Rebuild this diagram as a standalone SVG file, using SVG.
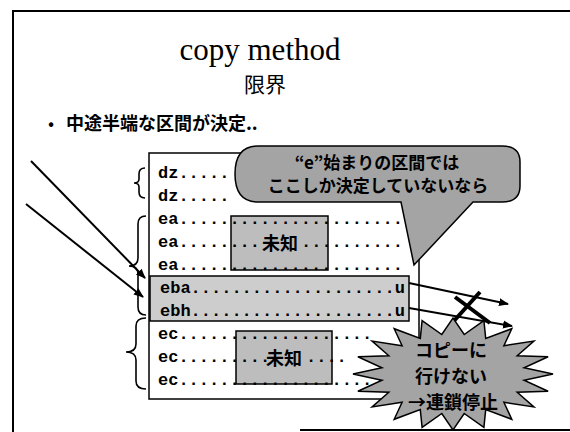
<svg xmlns="http://www.w3.org/2000/svg" width="570" height="432" viewBox="0 0 570 432">
<defs>
<style>
.frame{fill:none;stroke:#000;stroke-width:2}
.title{font-family:"Liberation Serif",serif;font-size:31px;fill:#000}
.jp{font-family:"Noto Sans CJK JP",sans-serif;fill:#000}
.row{font-family:"Liberation Mono",monospace;font-weight:bold;font-size:17px;fill:#000}
.brace{fill:none;stroke:#000;stroke-width:1.6}
.arrow{fill:none;stroke:#000;stroke-width:2}
.cross{fill:none;stroke:#000;stroke-width:4}
.gray{fill:#a4a4a4;stroke:#000;stroke-width:1.5}
.light{fill:#cdcdcd;stroke:#000;stroke-width:1.5}
.unk{fill:#bdbdbd;stroke:#000;stroke-width:1.5}
</style>
<marker id="ah" viewBox="0 0 10 10" refX="9" refY="5" markerWidth="5" markerHeight="5" orient="auto" markerUnits="strokeWidth">
<path d="M0,1 L10,5 L0,9 Z" fill="#000"/>
</marker>
</defs>
<rect width="570" height="432" fill="#fff"/>
<g id="frame">
<path class="frame" d="M13,432 L13,11 L570,11"/>
<path class="frame" d="M300,430 L570,430"/>
</g>
<g id="title">
<text class="title" x="260" y="60" text-anchor="middle">copy method</text>
<text class="jp" x="265" y="92" font-size="21" text-anchor="middle">限界</text>
</g>
<g id="bullet">
<text class="jp" x="48" y="130" font-size="18">•</text>
<text class="jp" x="66" y="130" font-size="18" font-weight="bold">中途半端な区間が決定..</text>
</g>
<g id="table">
<rect x="149" y="153" width="270" height="246" fill="#fff" stroke="#000" stroke-width="1.5"/>
<rect class="light" x="150" y="276" width="259" height="45"/>
<rect id="unknown1" class="unk" x="231" y="216" width="97" height="54"/>
<rect id="unknown2" class="unk" x="236" y="331" width="96" height="53"/>
<text class="row" x="158" y="178">dz.....</text>
<text class="row" x="158" y="201">dz.....</text>
<text class="row" x="158" y="224">ea......................</text>
<text class="row" x="158" y="247">ea........</text>
<text class="row" x="301" y="247">..........</text>
<text class="row" x="158" y="270">ea......................</text>
<text class="row" x="160" y="293">eba....................u</text>
<text class="row" x="160" y="316">ebh....................u</text>
<text class="row" x="158" y="339">ec...................</text>
<text class="row" x="158" y="362">ec.........</text>
<text class="row" x="306" y="362">....</text>
<text class="row" x="158" y="385">ec...................</text>
<text class="jp" x="280" y="250" font-size="18" font-weight="bold" text-anchor="middle">未知</text>
<text class="jp" x="284" y="365" font-size="18" font-weight="bold" text-anchor="middle">未知</text>
</g>
<g id="braces">
<path class="brace" d="M145,168 Q139,168 139,174 L139,179 Q139,183 134,183 Q139,183 139,187 L139,192 Q139,198 145,198"/>
<path class="brace" d="M146,216 Q138,216 138,224 L138,258 Q138,266 129,266 Q138,266 138,274 L138,307 Q138,315 146,315"/>
<path class="brace" d="M146,318 Q136,318 136,326 L136,344 Q136,352 126,352 Q136,352 136,360 L136,381 Q136,389 146,389"/>
</g>
<g id="connectors">
<line class="arrow" x1="31" y1="161" x2="145" y2="278" marker-end="url(#ah)"/>
<line class="arrow" x1="26" y1="204" x2="143" y2="297" marker-end="url(#ah)"/>
<line class="arrow" x1="409" y1="283" x2="508" y2="304" marker-end="url(#ah)"/>
<line class="arrow" x1="409" y1="308" x2="512" y2="326" marker-end="url(#ah)"/>
<line class="cross" x1="480" y1="292" x2="453" y2="322"/>
<line class="cross" x1="455" y1="297" x2="490" y2="323"/>
</g>
<g id="callout">
<path class="gray" d="M258,146 L502,146 Q520,146 520,162 L520,186 Q520,202 502,202 L473,202 L414,265 L401,202 L258,202 Q235,202 235,174 Q235,146 258,146 Z"/>
<text class="jp" x="377" y="169" font-size="17" font-weight="bold" text-anchor="middle">“e”始まりの区間では</text>
<text class="jp" x="378" y="192" font-size="17" font-weight="bold" text-anchor="middle">ここしか決定していないなら</text>
</g>
<g id="burst">
<polygon class="gray" points="553,374 524.1,380.2 548.1,391.3 517.2,392.2 533.9,406.9 503.9,402.3 511.8,419.3 485.7,409.6 483.9,427.3 464.2,413.5 453,430 441.8,413.5 422.1,427.3 420.3,409.6 394.2,419.3 402.1,402.3 372.1,406.9 388.8,392.2 357.9,391.3 381.9,380.2 353,374 381.9,367.8 357.9,356.7 388.8,355.8 372.1,341.1 402.1,345.7 394.2,328.7 420.3,338.4 422.1,320.7 441.8,334.5 453,318 464.2,334.5 483.9,320.7 485.7,338.4 511.8,328.7 503.9,345.7 533.9,341.1 517.2,355.8 548.1,356.7 524.1,367.8"/>
<text class="jp" x="451" y="357" font-size="18" font-weight="bold" text-anchor="middle">コピーに</text>
<text class="jp" x="451" y="383" font-size="18" font-weight="bold" text-anchor="middle">行けない</text>
<text class="jp" x="453" y="409" font-size="18" font-weight="bold" text-anchor="middle">→連鎖停止</text>
</g>
</svg>
